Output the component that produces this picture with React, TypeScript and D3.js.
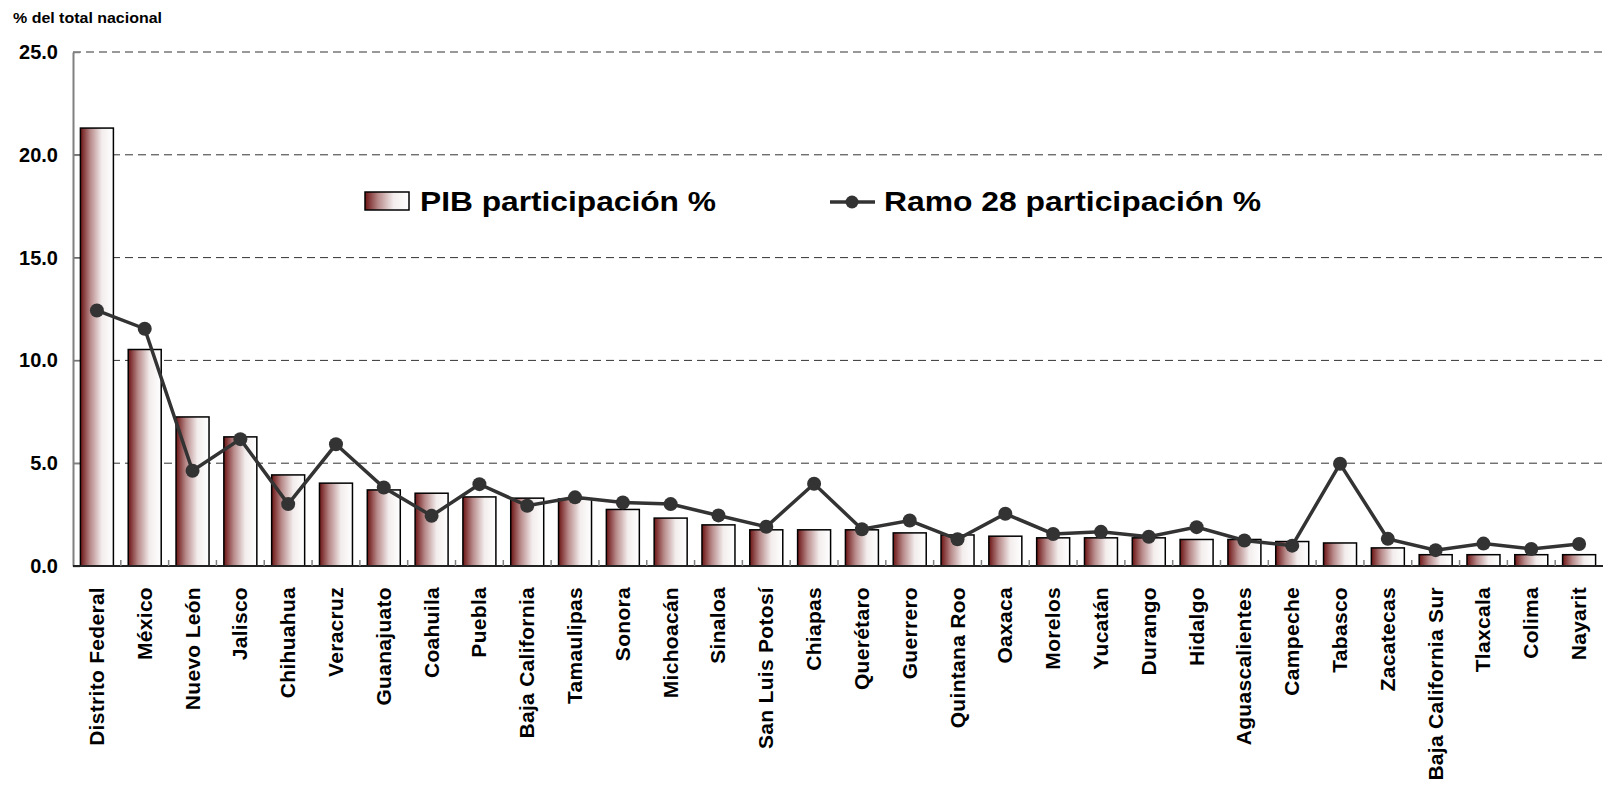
import React, { useEffect, useRef } from 'react';
import * as d3 from 'd3';

const states = [
  'Distrito Federal', 'México', 'Nuevo León', 'Jalisco', 'Chihuahua', 'Veracruz', 'Guanajuato', 'Coahuila',
  'Puebla', 'Baja California', 'Tamaulipas', 'Sonora', 'Michoacán', 'Sinaloa', 'San Luis Potosí', 'Chiapas',
  'Querétaro', 'Guerrero', 'Quintana Roo', 'Oaxaca', 'Morelos', 'Yucatán', 'Durango', 'Hidalgo',
  'Aguascalientes', 'Campeche', 'Tabasco', 'Zacatecas', 'Baja California Sur', 'Tlaxcala', 'Colima', 'Nayarit',
];

const pibShare = [
  21.3, 10.53, 7.25, 6.28, 4.43, 4.03, 3.7, 3.54,
  3.36, 3.3, 3.26, 2.75, 2.33, 2.0, 1.76, 1.76,
  1.76, 1.61, 1.51, 1.45, 1.37, 1.37, 1.37, 1.29,
  1.29, 1.19, 1.12, 0.88, 0.55, 0.55, 0.55, 0.55,
];

const ramo28Share = [
  12.43, 11.54, 4.63, 6.17, 3.01, 5.92, 3.82, 2.44,
  3.98, 2.93, 3.34, 3.09, 3.01, 2.46, 1.91, 4.0,
  1.79, 2.21, 1.3, 2.54, 1.56, 1.66, 1.42, 1.89,
  1.24, 0.99, 4.97, 1.32, 0.77, 1.09, 0.83, 1.07,
];

const yTicks = [0, 5, 10, 15, 20, 25];

const W = 1603;
const H = 786;
const FONT = '"Liberation Sans", Arial, sans-serif';

const App: React.FC = () => {
  const svgRef = useRef<SVGSVGElement>(null);

  useEffect(() => {
    const svg = d3.select(svgRef.current);
    svg.selectAll('*').remove();

    const left = 73;
    const right = 1603;
    const top = 52;
    const bottom = 566;

    const x = d3.scaleBand<string>().domain(states).range([left, right]).paddingInner(0.31).paddingOuter(0.155);
    const y = d3.scaleLinear().domain([0, 25]).range([bottom, top]);

    // gradient for the bars
    const defs = svg.append('defs');
    const grad = defs.append('linearGradient').attr('id', 'barGrad').attr('x1', '0%').attr('x2', '100%');
    grad.append('stop').attr('offset', '0%').attr('stop-color', '#6c1313');
    grad.append('stop').attr('offset', '30%').attr('stop-color', '#b88a8a');
    grad.append('stop').attr('offset', '65%').attr('stop-color', '#f3eded');
    grad.append('stop').attr('offset', '100%').attr('stop-color', '#ffffff');

    // title
    svg.append('text')
      .attr('x', 13)
      .attr('y', 23)
      .attr('font-family', FONT)
      .attr('font-weight', 'bold')
      .attr('font-size', 15)
      .attr('textLength', 149)
      .attr('lengthAdjust', 'spacingAndGlyphs')
      .text('% del total nacional');

    // gridlines
    svg.append('g')
      .selectAll('line')
      .data(yTicks.filter(t => t > 0))
      .enter().append('line')
      .attr('x1', left)
      .attr('x2', right)
      .attr('y1', d => y(d))
      .attr('y2', d => y(d))
      .attr('stroke', '#333')
      .attr('stroke-width', 1)
      .attr('stroke-dasharray', '8,5');

    // y axis
    const yAxis = svg.append('g')
      .attr('transform', `translate(${left},0)`)
      .call(d3.axisLeft(y).tickValues(yTicks).tickFormat(d3.format('.1f')).tickSizeInner(-7).tickSizeOuter(0).tickPadding(15));
    yAxis.select('.domain').attr('stroke', '#808080').attr('stroke-width', 2);
    yAxis.selectAll('.tick line').attr('stroke', '#808080').attr('stroke-width', 1.5);
    yAxis.selectAll('.tick text')
      .attr('font-family', FONT)
      .attr('font-weight', 'bold')
      .attr('font-size', 20)
      .attr('fill', '#000');

    // bars
    svg.append('g')
      .selectAll('rect')
      .data(pibShare)
      .enter().append('rect')
      .attr('x', (_d, i) => x(states[i])!)
      .attr('y', d => y(d))
      .attr('width', x.bandwidth())
      .attr('height', d => bottom - y(d))
      .attr('fill', 'url(#barGrad)')
      .attr('stroke', '#000')
      .attr('stroke-width', 1.5);

    // x axis baseline + category ticks
    svg.append('line')
      .attr('x1', left).attr('x2', right)
      .attr('y1', bottom).attr('y2', bottom)
      .attr('stroke', '#222').attr('stroke-width', 2);
    svg.append('g')
      .selectAll('line')
      .data(states.slice(1))
      .enter().append('line')
      .attr('x1', d => x(d)! - x.step() * x.paddingInner() / 2)
      .attr('x2', d => x(d)! - x.step() * x.paddingInner() / 2)
      .attr('y1', bottom)
      .attr('y2', bottom - 6)
      .attr('stroke', '#808080')
      .attr('stroke-width', 1.5);

    // x labels
    svg.append('g')
      .selectAll('text')
      .data(states)
      .enter().append('text')
      .attr('transform', d => `translate(${x(d)! + x.bandwidth() / 2 + 7},${bottom + 21}) rotate(-90)`)
      .attr('text-anchor', 'end')
      .attr('font-family', FONT)
      .attr('font-weight', 'bold')
      .attr('font-size', 21)
      .attr('letter-spacing', 0.3)
      .text(d => d);

    // ramo 28 line
    const line = d3.line<number>()
      .x((_d, i) => x(states[i])! + x.bandwidth() / 2)
      .y(d => y(d));
    svg.append('path')
      .datum(ramo28Share)
      .attr('d', line)
      .attr('fill', 'none')
      .attr('stroke', '#333')
      .attr('stroke-width', 3.5);
    svg.append('g')
      .selectAll('circle')
      .data(ramo28Share)
      .enter().append('circle')
      .attr('cx', (_d, i) => x(states[i])! + x.bandwidth() / 2)
      .attr('cy', d => y(d))
      .attr('r', 7)
      .attr('fill', '#333');

    // legend
    const lg = svg.append('g');
    lg.append('rect')
      .attr('x', 365).attr('y', 192)
      .attr('width', 44).attr('height', 18)
      .attr('fill', 'url(#barGrad)')
      .attr('stroke', '#000').attr('stroke-width', 1.5);
    lg.append('text')
      .attr('x', 420).attr('y', 211)
      .attr('font-family', FONT).attr('font-weight', 'bold').attr('font-size', 28)
      .attr('textLength', 296).attr('lengthAdjust', 'spacingAndGlyphs')
      .text('PIB participación %');
    lg.append('line')
      .attr('x1', 830).attr('x2', 875)
      .attr('y1', 202).attr('y2', 202)
      .attr('stroke', '#333').attr('stroke-width', 3.5);
    lg.append('circle')
      .attr('cx', 852).attr('cy', 202).attr('r', 6.5).attr('fill', '#333');
    lg.append('text')
      .attr('x', 884).attr('y', 211)
      .attr('font-family', FONT).attr('font-weight', 'bold').attr('font-size', 28)
      .attr('textLength', 377).attr('lengthAdjust', 'spacingAndGlyphs')
      .text('Ramo 28 participación %');
  }, []);

  return (
    <svg
      ref={svgRef}
      width={W}
      height={H}
      style={{ position: 'absolute', left: 0, top: 0, background: '#fff' }}
    />
  );
};

export default App;
